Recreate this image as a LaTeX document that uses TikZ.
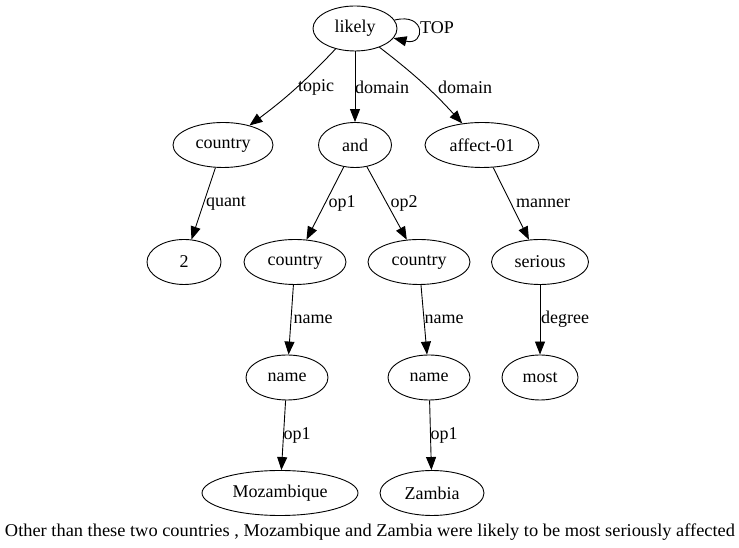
\documentclass[tikz,border=0pt]{standalone}
\usepackage{fontspec}
\setmainfont{Liberation Serif}
\usetikzlibrary{arrows.meta,shapes.geometric}
\tikzset{
  amr/.style={draw, ellipse, line width=0.9pt, inner sep=0pt, minimum height=45pt, font=\fontsize{18}{21}\selectfont},
  lbl/.style={inner sep=0pt, font=\fontsize{18}{21}\selectfont},
  arr/.style={line width=0.9pt, -{Triangle[length=13pt,width=10pt]}},
}
\begin{document}
\begin{tikzpicture}[x=1pt,y=1pt]
\useasboundingbox (0,0) rectangle (739,548);
% nodes
\node[amr, minimum width=84pt]  (likely)   at (355,519.5) {likely};
\node[amr, minimum width=100pt] (country1) at (223,403) {country};
\node[amr, minimum width=73pt]  (and)      at (355,403) {and};
\node[amr, minimum width=114pt] (affect)   at (482,403) {affect-01};
\node[amr, minimum width=74pt]  (two)      at (184,286) {2};
\node[amr, minimum width=102pt] (country2) at (295,286) {country};
\node[amr, minimum width=102pt] (country3) at (419,286) {country};
\node[amr, minimum width=97pt]  (serious)  at (540,286) {serious};
\node[amr, minimum width=82pt]  (name1)    at (287,170.5) {name};
\node[amr, minimum width=82pt]  (name2)    at (429,170.5) {name};
\node[amr, minimum width=76pt]  (most)     at (540,170.5) {most};
\node[amr, minimum width=156pt] (moz)      at (280,55) {Mozambique};
\node[amr, minimum width=104pt] (zam)      at (432,55) {Zambia};
% edges
\draw[arr] (likely.12) .. controls +(32,8) and +(32,-8) .. (likely.-14);
\draw[arr] (likely) to[bend left=5] (country1);
\draw[arr] (likely) -- (and);
\draw[arr] (likely) to[bend left=5] (affect);
\draw[arr] (country1) -- (two);
\draw[arr] (and) -- (country2);
\draw[arr] (and) -- (country3);
\draw[arr] (affect) -- (serious);
\draw[arr] (country2) -- (name1);
\draw[arr] (country3) -- (name2);
\draw[arr] (serious) -- (most);
\draw[arr] (name1) -- (moz);
\draw[arr] (name2) -- (zam);
% labels
\node[lbl] (lTOP)    at (437,520) {TOP};
\node[lbl] (ltopic)  at (316,461) {topic};
\node[lbl] (ldom1)   at (382,461) {domain};
\node[lbl] (ldom2)   at (465,461) {domain};
\node[lbl] (lquant)  at (226,345) {quant};
\node[lbl] (lop1)    at (342,345) {op1};
\node[lbl] (lop2)    at (404,345) {op2};
\node[lbl] (lmanner) at (543,345) {manner};
\node[lbl] (lname1)  at (313,229) {name};
\node[lbl] (lname2)  at (444,229) {name};
\node[lbl] (ldeg)    at (565,229) {degree};
\node[lbl] (lop1a)   at (297,113) {op1};
\node[lbl] (lop1b)   at (444,113) {op1};
% caption
\node[lbl] (caption) at (370,16) {\resizebox{730pt}{\height}{Other than these two countries , Mozambique and Zambia were likely to be most seriously affected}};
\end{tikzpicture}
\end{document}
